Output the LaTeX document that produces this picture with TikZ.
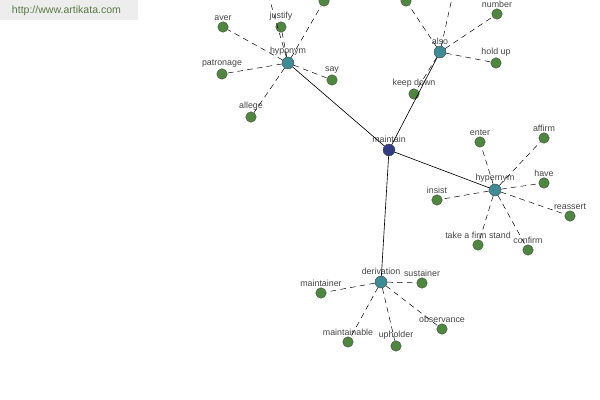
\documentclass[tikz,border=0pt]{standalone}
\usepackage{fontspec}
\setmainfont{Liberation Sans}
\definecolor{wgreen}{RGB}{80,135,64}
\definecolor{wteal}{RGB}{64,140,150}
\definecolor{wblue}{RGB}{52,60,130}
\definecolor{wtext}{RGB}{70,70,70}
\definecolor{wmark}{RGB}{90,120,70}
\usetikzlibrary{positioning}

\begin{document}
\begin{tikzpicture}[x=0.025cm,y=-0.025cm,
  leaf/.style={circle,draw=black!70,fill=wgreen,inner sep=0pt,minimum size=10.5*0.025cm,line width=0.3pt},
  hub/.style={circle,draw=black!70,fill=wteal,inner sep=0pt,minimum size=12*0.025cm,line width=0.3pt},
  root/.style={circle,draw=black!70,fill=wblue,inner sep=0pt,minimum size=12*0.025cm,line width=0.3pt},
  every label/.style={font=\fontsize{6.3}{7}\selectfont,text=wtext,inner sep=0.5pt},
  link/.style={dashed,dash pattern=on 4pt off 3pt,line width=0.35pt},
  rel/.style={line width=0.45pt}]
  \useasboundingbox (0,0) rectangle (600,400);
  \clip (0,0) rectangle (600,400);
  \fill[black!7] (0,0) rectangle (138,20);
  \node[font=\fontsize{7.5}{8}\selectfont,text=wmark,anchor=west] (site) at (7,11) {http://www.artikata.com};
  % centre and relation hubs
  \node[root,label=above:maintain] (maintain) at (389,150) {};
  \node[hub,label=above:hyponym] (hypo) at (288,63) {};
  \node[hub,label=above:also] (also) at (440,52) {};
  \node[hub,label=above:hypernym] (hyper) at (495,190) {};
  \node[hub,label=above:derivation] (deriv) at (381,282) {};
  % hyponym
  \node[leaf,label=above:aver] (aver) at (223,27) {};
  \node[leaf,label=above:justify] (justify) at (281,27) {};
  \node[leaf] (hypotop) at (324,1) {};
  \coordinate (hypoout) at (264,-20);
  \node[leaf,label=above:patronage] (patronage) at (222,74) {};
  \node[leaf,label=above:say] (say) at (332,80) {};
  \node[leaf,label=above:allege] (allege) at (251,117) {};
  % also
  \node[leaf] (alsotop) at (406,1) {};
  \coordinate (alsoout) at (456,-20);
  \node[leaf,label=above:number] (number) at (497,14) {};
  \node[leaf,label=above:hold up] (holdup) at (496,63) {};
  \node[leaf,label=above:keep down] (keepdown) at (414,94) {};
  % hypernym
  \node[leaf,label=above:enter] (enter) at (480,142) {};
  \node[leaf,label=above:affirm] (affirm) at (544,138) {};
  \node[leaf,label=above:have] (have) at (544,183) {};
  \node[leaf,label=above:reassert] (reassert) at (570,216) {};
  \node[leaf,label=above:confirm] (confirm) at (528,250) {};
  \node[leaf,label=above:take a firm stand] (firm) at (478,245) {};
  \node[leaf,label=above:insist] (insist) at (437,200) {};
  % derivation
  \node[leaf,label=above:sustainer] (sustainer) at (422,283) {};
  \node[leaf,label=above:maintainer] (maintainer) at (321,293) {};
  \node[leaf,label=above:maintainable] (maintainable) at (348,342) {};
  \node[leaf,label=above:upholder] (upholder) at (396,346) {};
  \node[leaf,label=above:observance] (observance) at (442,329) {};
  % connectors
  \draw[rel] (maintain) -- (hypo);
  \draw[rel] (maintain) -- (also);
  \draw[rel] (maintain) -- (hyper);
  \draw[rel] (maintain) -- (deriv);
  \foreach \n in {aver,justify,hypotop,hypoout,patronage,say,allege}
    \draw[link] (hypo) -- (\n);
  \foreach \n in {alsotop,alsoout,number,holdup,keepdown}
    \draw[link] (also) -- (\n);
  \foreach \n in {enter,affirm,have,reassert,confirm,firm,insist}
    \draw[link] (hyper) -- (\n);
  \foreach \n in {sustainer,maintainer,maintainable,upholder,observance}
    \draw[link] (deriv) -- (\n);
\end{tikzpicture}
\end{document}
